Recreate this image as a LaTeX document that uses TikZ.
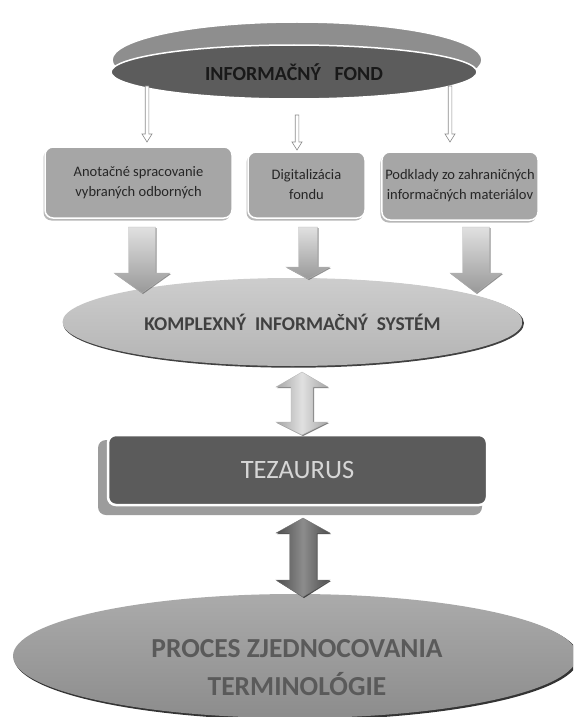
\documentclass[tikz,border=0pt]{standalone}
\usepackage{fontspec}
\setmainfont{Carlito}
\usetikzlibrary{calc,shadows,shapes.geometric}
\definecolor{rimgray}{HTML}{8E8E8E}
\definecolor{fonddark}{HTML}{5C5C5C}
\definecolor{boxgray}{HTML}{A6A6A6}
\definecolor{kislight}{HTML}{CDCDCD}
\definecolor{kisdark}{HTML}{B4B4B4}
\definecolor{tezdark}{HTML}{5B5B5B}
\definecolor{tezback}{HTML}{9C9C9C}
\definecolor{tezText}{HTML}{D6D6D6}
\definecolor{procText}{HTML}{5A5A5A}
\definecolor{kisText}{HTML}{404040}
% block arrow pointing down: #1 start, #2 tip, #3 shaft half, #4 head half, #5 head length, #6 style
\newcommand\blkdown[6]{%
  \path[#6] let \p1=(#1), \p2=(#2) in
    ({\x1-#3},\y1) -- ({\x1+#3},\y1) -- ({\x1+#3},{\y2+#5}) -- ({\x1+#4},{\y2+#5})
    -- (\x1,\y2) -- ({\x1-#4},{\y2+#5}) -- ({\x1-#3},{\y2+#5}) -- cycle;}
% double block arrow: #1 top tip, #2 bottom tip, #3 shaft half, #4 head half, #5 top head len, #6 bottom head len, #7 style
\newcommand\blkdouble[7]{%
  \path[#7] let \p1=(#1), \p2=(#2) in
    (\x1,\y1) -- ({\x1+#4},{\y1-#5}) -- ({\x1+#3},{\y1-#5}) -- ({\x1+#3},{\y2+#6})
    -- ({\x1+#4},{\y2+#6}) -- (\x2,\y2) -- ({\x1-#4},{\y2+#6}) -- ({\x1-#3},{\y2+#6})
    -- ({\x1-#3},{\y1-#5}) -- ({\x1-#4},{\y1-#5}) -- cycle;}
\begin{document}
\begin{tikzpicture}[x=1pt,y=-1pt,
  srcbox/.style={rectangle, rounded corners=8pt, fill=boxgray, draw=white, line width=1.5pt,
    align=center, font=\fontsize{14.5}{20}\selectfont, text=black!85,
    drop shadow={shadow xshift=-1.5pt, shadow yshift=-2.5pt, fill=black!35, opacity=0.8}},
  thinarrow/.style={fill=white, draw=black!45, line width=0.6pt},
  blockarrow/.style={top color=black!12, bottom color=black!40, draw=black!30, line width=0.3pt,
    drop shadow={shadow xshift=1pt, shadow yshift=-1pt, fill=black!60, opacity=0.7}},
  lightdouble/.style={left color=black!35, right color=black!35, middle color=black!12, draw=black!30, line width=0.3pt,
    drop shadow={shadow xshift=1pt, shadow yshift=-1pt, fill=black!70, opacity=0.7}},
  darkdouble/.style={left color=black!70, right color=black!70, middle color=black!45, draw=black!55, line width=0.3pt,
    drop shadow={shadow xshift=1pt, shadow yshift=-1pt, fill=black!85, opacity=0.8}}
]
\useasboundingbox (0,0) rectangle (573,717);
\clip (0,0) rectangle (573,717);
\fill[white] (0,0) rectangle (573,717);

% ---- INFORMACNY FOND ----
\node[ellipse, fill=rimgray, draw=white, line width=1.5pt,
      minimum width=370, minimum height=76, inner sep=0pt] (rim) at (297,60) {};
\node[ellipse, fill=fonddark, draw=white, line width=1.5pt,
      minimum width=366, minimum height=54, inner sep=0pt,
      font=\fontsize{20}{23}\bfseries\selectfont, text=black!90] (fond) at (294,72) {INFORMAČNÝ\ \ \ FOND};

% ---- source boxes ----
\node[srcbox, minimum width=187, minimum height=71] (box1) at (138.5,182.5)
  {Anotačné spracovanie\\vybraných odborných};
\node[srcbox, minimum width=117, minimum height=66] (box2) at (306.5,185)
  {Digitalizácia\\fondu};
\node[srcbox, minimum width=148, minimum height=68] (box3) at (460,186)
  {Podklady zo zahraničných\\informačných materiálov};

% thin double-line arrows from the fund
\coordinate (t1a) at (147,86);  \coordinate (t1b) at (147,142);
\coordinate (t2a) at (297,115); \coordinate (t2b) at (297,150);
\coordinate (t3a) at (450,86);  \coordinate (t3b) at (450,142);
\blkdown{t1a}{t1b}{1.8pt}{5pt}{8pt}{thinarrow}
\blkdown{t2a}{t2b}{1.8pt}{5pt}{8pt}{thinarrow}
\blkdown{t3a}{t3b}{1.8pt}{5pt}{8pt}{thinarrow}

% ---- KOMPLEXNY INFORMACNY SYSTEM ----
\node[ellipse, fill=black!75, minimum width=461, minimum height=89, inner sep=0pt] (kisshadow) at (293.5,323.2) {};
\node[ellipse, top color=kislight, bottom color=kisdark, minimum width=460, minimum height=88, inner sep=0pt,
      font=\fontsize{19.5}{22}\bfseries\selectfont, text=kisText] (kis) at (292.5,322) {KOMPLEXNÝ\ \ INFORMAČNÝ\ \ SYSTÉM};

% block arrows into the system
\coordinate (b1a) at (142,227); \coordinate (b1b) at (142,293);
\coordinate (b2a) at (308,227); \coordinate (b2b) at (308,279);
\coordinate (b3a) at (476,227); \coordinate (b3b) at (476,293);
\blkdown{b1a}{b1b}{13.5pt}{28pt}{20pt}{blockarrow}
\blkdown{b2a}{b2b}{9.5pt}{22pt}{12pt}{blockarrow}
\blkdown{b3a}{b3b}{13.5pt}{26pt}{20pt}{blockarrow}

% ---- TEZAURUS ----
\node[rectangle, rounded corners=8pt, fill=tezback, minimum width=384, minimum height=75, inner sep=0pt] (tezback) at (290,477.5) {};
\node[rectangle, rounded corners=8pt, fill=tezdark, draw=white, line width=2.5pt,
      minimum width=379, minimum height=70, inner sep=0pt,
      font=\fontsize{26.5}{30}\selectfont, text=tezText] (tez) at (297.5,470) {TEZAURUS};

\coordinate (d1a) at (302,372); \coordinate (d1b) at (302,435);
\blkdouble{d1a}{d1b}{11pt}{26pt}{15pt}{13pt}{lightdouble}

% ---- PROCES ZJEDNOCOVANIA TERMINOLOGIE ----
\node[ellipse, fill=black!80, minimum width=565, minimum height=125, inner sep=0pt] (procshadow) at (296.5,657.5) {};
\node[ellipse, top color=black!33, bottom color=black!45, minimum width=564, minimum height=124, inner sep=0pt] (proc) at (295,656) {};
\node[align=center, font=\fontsize{27.5}{38}\bfseries\selectfont, text=procText] (proctext) at (297,668)
  {PROCES ZJEDNOCOVANIA\\TERMINOLÓGIE};

\coordinate (d2a) at (303,518); \coordinate (d2b) at (303,597);
\blkdouble{d2a}{d2b}{13.5pt}{27pt}{15pt}{17pt}{darkdouble}
\end{tikzpicture}
\end{document}
